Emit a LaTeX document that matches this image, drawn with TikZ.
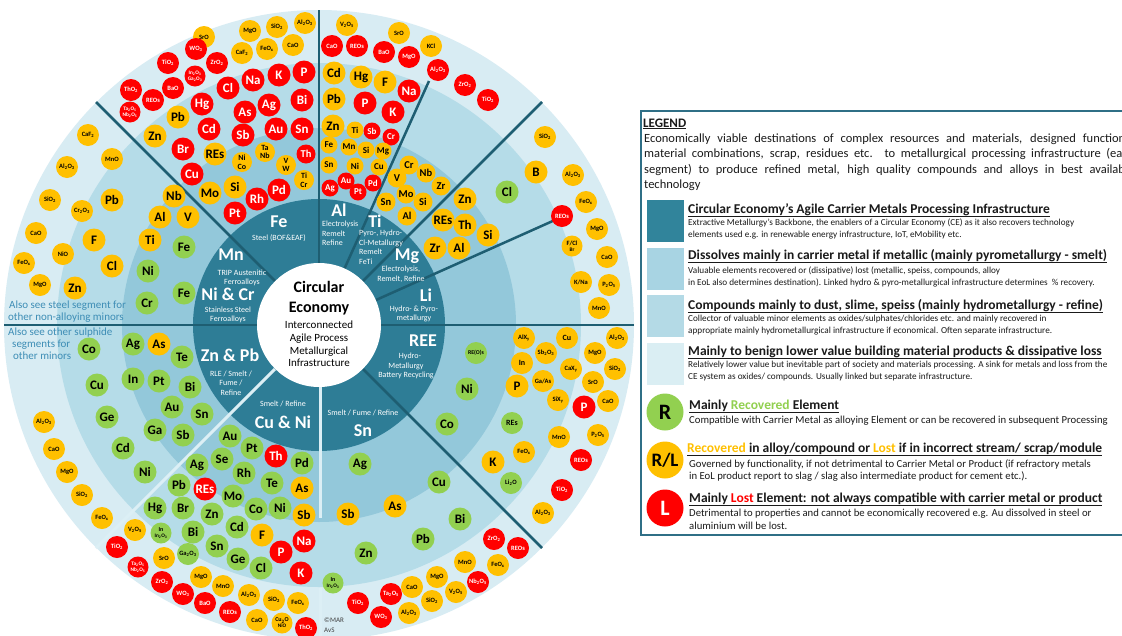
\documentclass[tikz,border=0pt]{standalone}
\usepackage{fontspec}
\setmainfont{Carlito}
\definecolor{dk}{HTML}{2E7D96}
\definecolor{rgb}{HTML}{93C8DA}
\definecolor{rgc}{HTML}{B5DCE8}
\definecolor{rgd}{HTML}{D8ECF3}
\definecolor{sepc}{HTML}{1E5E72}
\definecolor{lightsep}{HTML}{DCEFF5}
\definecolor{gC}{HTML}{92D050}
\definecolor{yC}{HTML}{FFC000}
\definecolor{rC}{HTML}{FF0000}
\definecolor{notec}{HTML}{3D8DB5}
\definecolor{legbd}{HTML}{2F6F86}
\definecolor{lga}{HTML}{31849B}
\definecolor{lgb}{HTML}{A8D4E3}
\definecolor{lgc}{HTML}{B4DAE6}
\definecolor{lgd}{HTML}{DAEEF3}
\definecolor{txt}{HTML}{1A1A1A}
\newcounter{elc}
\newcommand{\dn}[1]{\textsubscript{#1}}
\newcommand{\elem}[4]{\stepcounter{elc}\node[#1] (e\arabic{elc}) at (#2,#3) {#4};}
\tikzset{
 elb/.style={circle,inner sep=0pt,align=center},
 eB/.style={elb,minimum size=23pt,font=\fontsize{13}{13}\selectfont\bfseries},
 eT/.style={elb,minimum size=19pt,font=\fontsize{10.5}{11}\selectfont\bfseries},
 eS/.style={elb,minimum size=17pt,font=\fontsize{9}{9}\selectfont\bfseries},
 eM/.style={elb,minimum size=20pt,font=\fontsize{8}{8.5}\selectfont\bfseries},
 eO/.style={elb,minimum size=22pt,font=\fontsize{6.5}{7}\selectfont\bfseries},
 eP/.style={elb,minimum size=21pt,font=\fontsize{5.3}{6}\selectfont\bfseries},
 cg/.style={fill=gC,text=black},
 cy/.style={fill=yC,text=black},
 cr/.style={fill=rC,text=white},
 sepline/.style={draw=sepc,line width=2.5pt},
 lsepline/.style={draw=lightsep,line width=3pt},
 lbB/.style={text=white,font=\fontsize{18}{18}\selectfont\bfseries,inner sep=0pt},
 lbS/.style={text=white,font=\fontsize{8}{9.5}\selectfont,inner sep=0pt,align=center},
 nt/.style={text=notec,font=\fontsize{11}{12}\selectfont,anchor=base west,inner sep=0pt},
 ttl/.style={text=txt,anchor=base west,inner sep=0pt,font=\fontsize{13.5}{14}\selectfont\bfseries},
 dsc/.style={text=txt,anchor=base west,inner sep=0pt,font=\fontsize{9.2}{10}\selectfont},
 dsr/.style={text=txt,anchor=base west,inner sep=0pt,font=\fontsize{10.7}{11}\selectfont},
 par/.style={text=txt,anchor=base west,inner sep=0pt,font=\fontsize{12.5}{13}\selectfont},
 swatch/.style={minimum width=37pt,minimum height=42pt,inner sep=0pt},
 lcirc/.style={circle,minimum size=37pt,inner sep=0pt,font=\fontsize{22}{22}\selectfont\bfseries}
}
\begin{document}
\begin{tikzpicture}[x=1pt,y=-1pt]
\useasboundingbox (0,0) rectangle (1122,635);
\clip (0,0) rectangle (1122,635);
\fill[white] (0,0) rectangle (1122,635);
% rings
\coordinate (C) at (319,325);
\fill[rgd] (C) circle (315pt);
\fill[rgc] (C) circle (262pt);
\fill[rgb] (C) circle (197pt);
\fill[dk] (C) circle (126pt);
% separators
\coordinate (a1) at (319,263); \coordinate (b1) at (319,10);
\coordinate (a2) at (275,281); \coordinate (b2) at (96,102);
\coordinate (a3) at (344.5,268.5); \coordinate (b3) at (429,81);
\coordinate (a4) at (363,281); \coordinate (b4) at (542,102);
\coordinate (a5) at (376,300); \coordinate (b5) at (555,220);
\coordinate (a6) at (381,325); \coordinate (b6) at (634,325);
\coordinate (a7) at (363,369); \coordinate (b7) at (542,548);
\coordinate (a8) at (257,325); \coordinate (b8) at (4,325);
\coordinate (a9) at (320,387); \coordinate (b9) at (320,518);
\coordinate (c9) at (320,588); \coordinate (d9) at (320,640);
\coordinate (a10) at (275,369); \coordinate (b10) at (96,548);
\draw[lsepline] (a9) -- (b9);
\draw[lsepline] (c9) -- (d9);
\draw[lsepline] (a10) -- (b10);
\foreach \i in {1,...,8} {\draw[sepline] (a\i) -- (b\i);}
\node[circle,fill=white,minimum size=124pt,inner sep=0pt] (ctr) at (C) {};
% ---------------- Fe segment
\elem{eO,cy}{204}{37}{SrO}
\elem{eO,cy}{250}{31}{MgO}
\elem{eO,cy}{277}{27}{SiO\dn2}
\elem{eO,cy}{305}{23}{Al\dn2O\dn3}
\elem{eO,cr}{196}{49}{WO\dn3}
\elem{eO,cy}{242}{53}{CaF\dn2}
\elem{eO,cy}{267}{49}{FeO\dn{x}}
\elem{eO,cy}{293}{45}{CaO}
\elem{eO,cr}{168}{63}{TiO\dn2}
\elem{eO,cr}{217}{63}{ZrO\dn2}
\elem{eP,cr}{195}{76}{In\dn2O\dn3\\Ga\dn2O\dn3}
\elem{eO,cr}{131}{90}{ThO\dn2}
\elem{eO,cr}{153}{100}{REOs}
\elem{eO,cr}{173}{88}{BaO}
\elem{eP,cr}{130}{112}{Ta\dn2O\dn5\\Nb\dn2O\dn5}
\elem{eB,cr}{228}{88}{Cl}
\elem{eB,cr}{253}{80}{Na}
\elem{eB,cr}{279}{75}{K}
\elem{eB,cr}{304}{72}{P}
\elem{eB,cr}{202}{104}{Hg}
\elem{eB,cy}{178}{117}{Pb}
\elem{eB,cr}{245}{112}{As}
\elem{eB,cr}{269}{105}{Ag}
\elem{eB,cr}{302}{100}{Bi}
\elem{eB,cy}{155}{136}{Zn}
\elem{eB,cr}{209}{129}{Cd}
\elem{eB,cr}{243}{135}{Sb}
\elem{eB,cr}{276}{129}{Au}
\elem{eB,cr}{302}{129}{Sn}
\elem{eB,cr}{183}{149}{Br}
\elem{eB,cy}{215}{154}{REs}
\elem{eB,cr}{192}{174}{Cu}
\elem{eB,cy}{235}{187}{Si}
\elem{eB,cy}{210}{193}{Mo}
\elem{eB,cr}{279}{190}{Pd}
\elem{eB,cr}{257}{199}{Rh}
\elem{eB,cr}{235}{213}{Pt}
\elem{eM,cy}{242}{162}{Ni\\Co}
\elem{eM,cy}{265}{152}{Ta\\Nb}
\elem{eM,cy}{286}{165}{V\\W}
\elem{eT,cr}{306}{154}{Th}
\elem{eM,cy}{304}{180}{Ti\\Cr}
% ---------------- Mn / Ni & Cr segment
\elem{eB,cy}{174}{196}{Nb}
\elem{eB,cy}{160}{217}{Al}
\elem{eB,cy}{188}{217}{V}
\elem{eB,cy}{150}{240}{Ti}
\elem{eB,cg}{184}{247}{Fe}
\elem{eB,cg}{148}{271}{Ni}
\elem{eB,cg}{184}{293}{Fe}
\elem{eB,cg}{147}{303}{Cr}
\elem{eB,cy}{112}{200}{Pb}
\elem{eB,cy}{94}{240}{F}
\elem{eB,cy}{112}{266}{Cl}
\elem{eB,cy}{75}{288}{Zn}
\elem{eO,cy}{88}{135}{CaF\dn2}
\elem{eO,cy}{112}{159}{MnO}
\elem{eO,cy}{67}{167}{Al\dn2O\dn3}
\elem{eO,cy}{50}{200}{SiO\dn2}
\elem{eO,cy}{82}{211}{Cr\dn2O\dn3}
\elem{eO,cy}{36}{233}{CaO}
\elem{eO,cy}{63}{254}{NiO}
\elem{eO,cy}{24}{263}{FeO\dn{x}}
\elem{eO,cy}{40}{285}{MgO}
% ---------------- Al segment
\elem{eO,cy}{347}{25}{V\dn2O\dn5}
\elem{eO,cy}{399}{33}{SrO}
\elem{eO,cr}{332}{46}{CaO}
\elem{eO,cr}{357}{46}{REOs}
\elem{eO,cr}{384}{52}{BaO}
\elem{eO,cr}{409}{57}{MgO}
\elem{eO,cy}{431}{46}{KCl}
\elem{eO,cr}{438}{70}{Al\dn2O\dn3}
\elem{eO,cr}{465}{85}{ZrO\dn2}
\elem{eO,cr}{488}{100}{TiO\dn2}
\elem{eB,cy}{334}{73}{Cd}
\elem{eB,cy}{361}{77}{Hg}
\elem{eB,cy}{385}{82}{F}
\elem{eB,cr}{409}{91}{Na}
\elem{eB,cy}{334}{99}{Pb}
\elem{eB,cr}{365}{103}{P}
\elem{eB,cr}{393}{112}{K}
\elem{eB,cy}{333}{126}{Zn}
\elem{eS,cy}{355}{130}{Ti}
\elem{eS,cr}{372}{131}{Sb}
\elem{eS,cr}{391}{137}{Cr}
\elem{eS,cy}{329}{145}{Fe}
\elem{eS,cy}{349}{147}{Mn}
\elem{eS,cy}{366}{150}{Si}
\elem{eS,cy}{383}{151}{Mg}
\elem{eS,cy}{329}{165}{Sn}
\elem{eS,cy}{355}{166}{Ni}
\elem{eS,cy}{379}{167}{Cu}
\elem{eS,cr}{330}{188}{Ag}
\elem{eS,cr}{346}{181}{Au}
\elem{eS,cr}{358}{192}{Pt}
\elem{eS,cr}{373}{183}{Pd}
% ---------------- Ti segment
\elem{eT,cy}{409}{165}{Cr}
\elem{eT,cy}{397}{178}{V}
\elem{eT,cy}{426}{173}{Nb}
\elem{eT,cy}{441}{186}{Zr}
\elem{eT,cy}{406}{194}{Mo}
\elem{eT,cy}{423}{202}{Si}
\elem{eT,cy}{386}{202}{Sn}
\elem{eT,cy}{407}{216}{Al}
% ---------------- Mg segment
\elem{eB,cy}{465}{199}{Zn}
\elem{eB,cy}{443}{220}{REs}
\elem{eB,cy}{465}{225}{Th}
\elem{eB,cy}{488}{235}{Si}
\elem{eB,cy}{435}{248}{Zr}
\elem{eB,cy}{459}{248}{Al}
% ---------------- Li segment
\elem{eO,cy}{545}{137}{SiO\dn2}
\elem{eB,cy}{536}{172}{B}
\elem{eB,cg}{507}{192}{Cl}
\elem{eO,cy}{573}{175}{Al\dn2O\dn3}
\elem{eO,cy}{586}{202}{FeO\dn{x}}
\elem{eO,cr}{562}{216}{REOs}
\elem{eO,cy}{597}{229}{MgO}
\elem{eP,cy}{572}{246}{\fontsize{6.5}{7}\selectfont F/Cl\\Br}
\elem{eO,cy}{607}{257}{CaO}
\elem{eO,cy}{581}{282}{K/Na}
\elem{eO,cy}{609}{285}{P\dn2O\dn5}
\elem{eO,cy}{599}{308}{MnO}
% ---------------- REE segment
\elem{eO,cg}{476}{353}{\fontsize{5.8}{6}\selectfont RE(O)s}
\elem{eB,cg}{467}{389}{Ni}
\elem{eB,cg}{447}{424}{Co}
\elem{eO,cg}{512}{423}{\fontsize{8}{8}\selectfont REs}
\elem{eO,cy}{524}{452}{FeO\dn{x}}
\elem{eB,cy}{493}{462}{K}
\elem{eO,cg}{511}{483}{Li\dn2O}
\elem{eO,cy}{524}{338}{AlX\dn{y}}
\elem{eO,cy}{567}{338}{\fontsize{8}{8}\selectfont Cu}
\elem{eO,cy}{546}{353}{Sb\dn2O\dn3}
\elem{eO,cy}{522}{363}{\fontsize{8}{8}\selectfont In}
\elem{eO,cy}{571}{369}{CaX\dn{y}}
\elem{eB,cy}{517}{386}{P}
\elem{eO,cy}{543}{381}{Ga/As}
\elem{eO,cy}{558}{400}{SiX\dn{y}}
\elem{eB,cr}{584}{407}{P}
\elem{eO,cy}{617}{338}{Al\dn2O\dn3}
\elem{eO,cy}{595}{353}{MgO}
\elem{eO,cy}{615}{369}{SiO\dn2}
\elem{eO,cy}{593}{382}{SrO}
\elem{eO,cy}{608}{401}{CaO}
\elem{eO,cy}{559}{437}{MnO}
\elem{eO,cy}{598}{435}{P\dn2O\dn5}
\elem{eO,cr}{581}{460}{REOs}
\elem{eO,cr}{562}{490}{TiO\dn2}
\elem{eO,cy}{543}{513}{Al\dn2O\dn3}
% ---------------- Sn segment
\elem{eB,cg}{360}{464}{Ag}
\elem{eB,cg}{439}{482}{Cu}
\elem{eB,cy}{348}{514}{Sb}
\elem{eB,cy}{395}{506}{As}
\elem{eB,cg}{460}{519}{Bi}
\elem{eB,cg}{423}{539}{Pb}
\elem{eB,cg}{366}{553}{Zn}
\elem{eP,cg}{333}{583}{\fontsize{6}{7}\selectfont In\\In\dn2O\dn3}
\elem{eO,cr}{494}{539}{ZrO\dn2}
\elem{eO,cr}{518}{548}{REOs}
\elem{eO,cy}{465}{562}{MnO}
\elem{eO,cy}{498}{565}{FeO\dn{x}}
\elem{eO,cr}{478}{582}{Nb\dn2O\dn5}
\elem{eO,cy}{437}{577}{MgO}
\elem{eO,cy}{412}{587}{CaO}
\elem{eO,cy}{456}{592}{V\dn2O\dn5}
\elem{eO,cr}{391}{594}{Ta\dn2O\dn5}
\elem{eO,cy}{432}{601}{SiO\dn2}
\elem{eO,cr}{358}{603}{TiO\dn2}
\elem{eO,cy}{409}{613}{Al\dn2O\dn3}
\elem{eO,cr}{381}{617}{WO\dn3}
\node[anchor=west,inner sep=0pt,align=left,text=black!75,font=\fontsize{7}{10}\selectfont] (cpy) at (324,625) {©MAR\\AvS};
% ---------------- Zn & Pb segment
\elem{eB,cg}{89}{349}{Co}
\elem{eB,cg}{133}{344}{Ag}
\elem{eB,cy}{159}{344}{As}
\elem{eB,cg}{182}{357}{Te}
\elem{eB,cg}{133}{379}{In}
\elem{eB,cg}{159}{381}{Pt}
\elem{eB,cg}{190}{387}{Bi}
\elem{eB,cg}{97}{385}{Cu}
\elem{eB,cg}{172}{407}{Au}
\elem{eB,cg}{202}{414}{Sn}
\elem{eB,cg}{107}{417}{Ge}
\elem{eB,cg}{155}{430}{Ga}
\elem{eB,cg}{183}{435}{Sb}
\elem{eB,cg}{123}{448}{Cd}
\elem{eB,cg}{145}{472}{Ni}
\elem{eO,cy}{44}{422}{Al\dn2O\dn3}
\elem{eO,cy}{54}{449}{CaO}
\elem{eO,cy}{67}{472}{MgO}
\elem{eO,cy}{82}{495}{SiO\dn2}
\elem{eO,cy}{102}{518}{FeO\dn{x}}
% ---------------- Cu & Ni segment
\elem{eB,cg}{230}{436}{Au}
\elem{eB,cg}{252}{448}{Pt}
\elem{eB,cr}{276}{456}{Th}
\elem{eB,cg}{302}{463}{Pd}
\elem{eB,cg}{222}{459}{Se}
\elem{eB,cg}{197}{465}{Ag}
\elem{eB,cg}{244}{473}{Rh}
\elem{eB,cg}{272}{483}{Te}
\elem{eB,cy}{302}{488}{As}
\elem{eB,cg}{179}{485}{Pb}
\elem{eB,cr}{205}{489}{REs}
\elem{eB,cg}{233}{496}{Mo}
\elem{eB,cg}{256}{509}{Co}
\elem{eB,cg}{280}{508}{Ni}
\elem{eB,cy}{304}{515}{Sb}
\elem{eB,cg}{155}{508}{Hg}
\elem{eB,cg}{183}{508}{Br}
\elem{eB,cg}{212}{514}{Zn}
\elem{eB,cg}{237}{527}{Cd}
\elem{eB,cy}{262}{535}{F}
\elem{eB,cr}{304}{541}{Na}
\elem{eB,cg}{193}{532}{Bi}
\elem{eB,cg}{217}{546}{Sn}
\elem{eB,cr}{281}{552}{P}
\elem{eB,cg}{238}{559}{Ge}
\elem{eB,cg}{261}{568}{Cl}
\elem{eB,cr}{301}{573}{K}
\elem{eO,cy}{135}{530}{V\dn2O\dn5}
\elem{eP,cg}{161}{533}{\fontsize{6}{7}\selectfont In\\In\dn2O\dn3}
\elem{eO,cr}{117}{547}{TiO\dn2}
\elem{eO,cg}{188}{554}{Ga\dn2O\dn3}
\elem{eO,cy}{164}{558}{SrO}
\elem{eP,cr}{138}{567}{Ta\dn2O\dn5\\Nb\dn2O\dn5}
\elem{eO,cr}{162}{582}{ZrO\dn2}
\elem{eO,cy}{201}{577}{MgO}
\elem{eO,cr}{183}{594}{WO\dn3}
\elem{eO,cy}{223}{586}{MnO}
\elem{eO,cy}{249}{595}{Al\dn2O\dn3}
\elem{eO,cy}{274}{600}{SiO\dn2}
\elem{eO,cy}{298}{603}{FeO\dn{x}}
\elem{eO,cr}{205}{603}{BaO}
\elem{eO,cr}{230}{612}{REOs}
\elem{eO,cy}{257}{620}{CaO}
\elem{eP,cy}{282}{623}{\fontsize{6}{7}\selectfont Cu\dn2O\\NiO}
\elem{eO,cr}{306}{628}{ThO\dn2}
% ---------------- carrier metal labels
\node[lbB] (lFe) at (279,222) {Fe};
\node[lbS] (sFe) at (279,238) {Steel (BOF\&EAF)};
\node[lbB] (lAl) at (339,210) {Al};
\node[lbS,anchor=north west,align=left] (sAl) at (322,221) {Electrolysis\\Remelt\\Refine};
\node[lbB] (lTi) at (375,221) {Ti};
\node[lbS,anchor=north west,align=left] (sTi) at (359,230) {Pyro-, Hydro-\\Cl-Metallurgy\\Remelt\\FeTi};
\node[lbB] (lMg) at (407,256) {Mg};
\node[lbS] (sMg) at (401,274) {Electrolysis,\\Remelt, Refine};
\node[lbB] (lLi) at (426,295) {Li};
\node[lbS] (sLi) at (414,314) {Hydro- \& Pyro-\\metallurgy};
\node[lbB] (lREE) at (423,341) {REE};
\node[lbS] (sREE) at (406,366) {\hspace*{8pt}Hydro-\\Metallurgy\\Battery Recycling};
\node[lbB] (lSn) at (363,431) {Sn};
\node[lbS] (sSn) at (363,413) {Smelt / Fume / Refine};
\node[lbB] (lCu) at (283,422) {Cu \& Ni};
\node[lbS] (sCu) at (283,404) {Smelt / Refine};
\node[lbB] (lZn) at (230,355) {Zn \& Pb};
\node[lbS] (sZn) at (231,383) {RLE / Smelt /\\Fume /\\Refine};
\node[lbB] (lMn) at (231,255) {Mn};
\node[lbS] (sMn) at (242,278) {TRIP Austenitic\\Ferroalloys};
\node[lbB] (lNi) at (228,294) {Ni \& Cr};
\node[lbS] (sNi) at (228,315) {Stainless Steel\\Ferroalloys};
% centre text
\node[font=\fontsize{16}{20}\selectfont\bfseries,align=center,inner sep=0pt] (ce1) at (319,298) {Circular\\Economy};
\node[font=\fontsize{11}{12.7}\selectfont,align=center,inner sep=0pt] (ce2) at (319,344) {Interconnected\\Agile Process\\Metallurgical\\Infrastructure};
% notes
\node[nt] (n1) at (9,308) {Also see steel segment for};
\node[nt] (n2) at (8,320) {other non-alloying minors};
\node[nt] (n3) at (8,335) {Also see other sulphide};
\node[nt] (n4) at (12,347) {segments for};
\node[nt] (n5) at (13,359) {other minors};
% ---------------- legend
\draw[legbd,line width=1.6pt] (641,111) rectangle (1140,535);
\node[anchor=base west,inner sep=0pt,text=txt,font=\fontsize{13}{13}\selectfont\bfseries] (lgt) at (643,127) {\underline{LEGEND}};
\node[par] (p1) at (644,142) {\makebox[490pt][s]{Economically viable destinations of complex resources and materials, designed functional}};
\node[par] (p2) at (644,157) {\makebox[490pt][s]{material combinations, scrap, residues etc. to metallurgical processing infrastructure (each}};
\node[par] (p3) at (644,173) {\makebox[490pt][s]{segment) to produce refined metal, high quality compounds and alloys in best available}};
\node[par] (p4) at (644,188) {technology};
\node[swatch,fill=lga] (sw1) at (665.5,221) {};
\node[swatch,fill=lgb] (sw2) at (665.5,268.5) {};
\node[swatch,fill=lgc] (sw3) at (665.5,316) {};
\node[swatch,fill=lgd] (sw4) at (665.5,364) {};
\node[ttl] (t1) at (688,213) {\underline{Circular Economy’s Agile Carrier Metals Processing Infrastructure}};
\node[dsc] (d1a) at (688,225) {Extractive Metallurgy’s Backbone, the enablers of a Circular Economy (CE) as it also recovers technology};
\node[dsc] (d1b) at (688,237) {elements used e.g. in renewable energy infrastructure, IoT, eMobility etc.};
\node[ttl] (t2) at (688,259) {\underline{Dissolves mainly in carrier metal if metallic (mainly pyrometallurgy - smelt)}};
\node[dsc] (d2a) at (688,273) {Valuable elements recovered or (dissipative) lost (metallic, speiss, compounds, alloy};
\node[dsc] (d2b) at (688,285) {in EoL also determines destination). Linked hydro \& pyro-metallurgical infrastructure determines \ \% recovery.};
\node[ttl] (t3) at (688,309) {\underline{Compounds mainly to dust, slime, speiss (mainly hydrometallurgy - refine)}};
\node[dsc] (d3a) at (688,321) {Collector of valuable minor elements as oxides/sulphates/chlorides etc. and mainly recovered in};
\node[dsc] (d3b) at (688,333) {appropriate mainly hydrometallurgical infrastructure if economical. Often separate infrastructure.};
\node[ttl] (t4) at (688,355) {\underline{Mainly to benign lower value building material products \& dissipative loss}};
\node[dsc] (d4a) at (688,367) {Relatively lower value but inevitable part of society and materials processing. A sink for metals and loss from the};
\node[dsc] (d4b) at (688,379) {CE system as oxides/ compounds. Usually linked but separate infrastructure.};
\node[lcirc,fill=gC,text=black] (lR) at (665,412) {R};
\node[lcirc,fill=yC,text=black,font=\fontsize{19}{19}\selectfont\bfseries] (lRL) at (665,460) {R/L};
\node[lcirc,fill=rC,text=white] (lL) at (665,508) {L};
\node[ttl] (t5) at (689,409) {\underline{Mainly \textcolor{gC}{Recovered} Element}};
\node[dsr] (d5) at (689,423) {Compatible with Carrier Metal as alloying Element or can be recovered in subsequent Processing};
\node[ttl] (t6) at (687,452) {\underline{\textcolor{yC}{Recovered} in alloy/compound or \textcolor{yC}{Lost} if in incorrect stream/ scrap/module}};
\node[dsr] (d6a) at (689,467) {Governed by functionality, if not detrimental to Carrier Metal or Product (if refractory metals};
\node[dsr] (d6b) at (689,479) {in EoL product report to slag / slag also intermediate product for cement etc.).};
\node[ttl] (t7) at (689,502) {\underline{Mainly \textcolor{rC}{Lost} Element: not always compatible with carrier metal or product}};
\node[dsr] (d7a) at (689,516) {Detrimental to properties and cannot be economically recovered e.g. Au dissolved in steel or};
\node[dsr] (d7b) at (689,529) {aluminium will be lost.};
\end{tikzpicture}
\end{document}
